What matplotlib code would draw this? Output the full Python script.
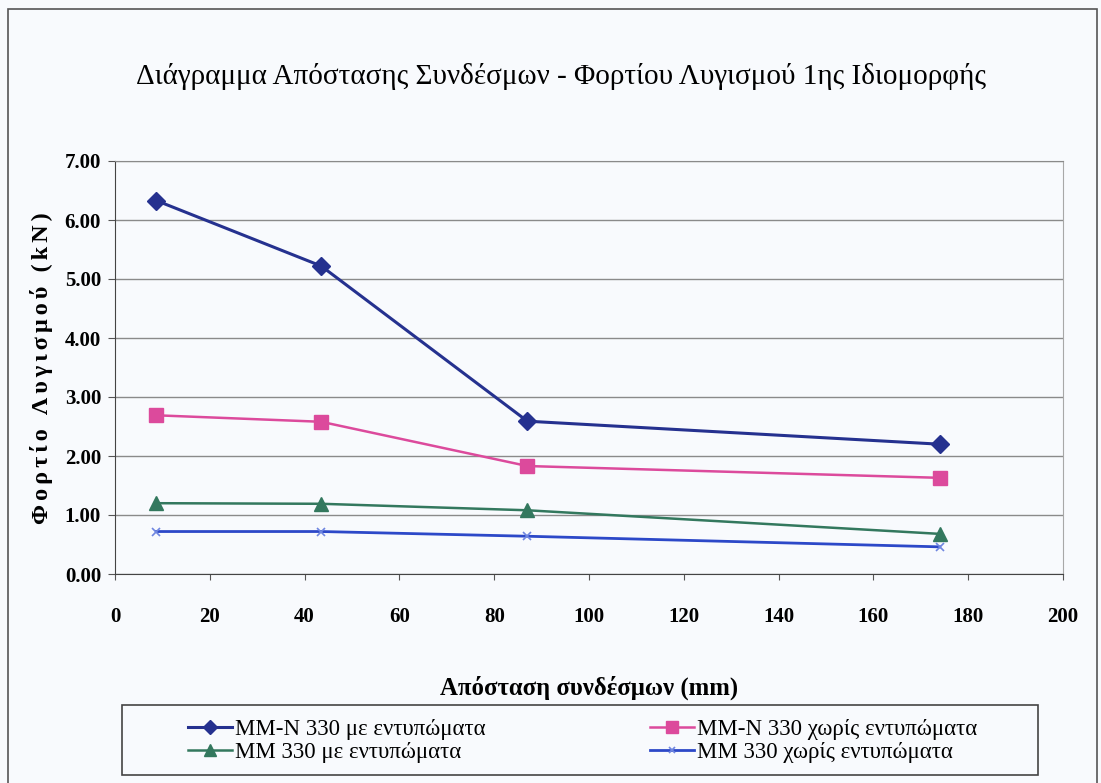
import matplotlib
matplotlib.use("Agg")
import matplotlib.pyplot as plt
from matplotlib.patches import Rectangle

# data
apostasi = [8.7, 43.5, 87, 174]
mmn_me = [6.33, 5.22, 2.59, 2.20]
mmn_xoris = [2.69, 2.58, 1.83, 1.63]
mm_me = [1.20, 1.19, 1.08, 0.68]
mm_xoris = [0.72, 0.72, 0.64, 0.46]

onomata = ["MM-N 330 με εντυπώματα", "MM-N 330 χωρίς εντυπώματα",
           "MM 330 με εντυπώματα", "MM 330 χωρίς εντυπώματα"]

titlos = "Διάγραμμα Απόστασης Συνδέσμων - Φορτίου Λυγισμού 1ης Ιδιομορφής"
xlabel = "Απόσταση συνδέσμων (mm)"
ylabel = "Φορτίο Λυγισμού (kN)"

serif = ["Liberation Serif", "DejaVu Serif"]
plt.rcParams['font.family'] = serif

W, H = 1101, 783
fondo = "#f8fafd"
fig = plt.figure(figsize=(W/100, H/100), dpi=100, facecolor=fondo)
ax = fig.add_axes([115/W, 1-574/H, (1063-115)/W, (574-161)/H])
ax.set_facecolor(fondo)

# marco exterior
fig.patches.append(Rectangle((8/W, -0.05), 1089/W, 1.05-9/H,
                             transform=fig.transFigure, fill=False,
                             edgecolor="#555555", lw=1.2))

l1, = ax.plot(apostasi, mmn_me, color="#25318f", lw=2.2, marker="D", ms=9,
              label=onomata[0])
l2, = ax.plot(apostasi, mmn_xoris, color="#dc4a9c", lw=1.8, marker="s", ms=10,
              label=onomata[1])
l3, = ax.plot(apostasi, mm_me, color="#33785e", lw=1.8, marker="^", ms=10,
              label=onomata[2])
l4, = ax.plot(apostasi, mm_xoris, color="#2c48c8", lw=2.0, marker="x", ms=6,
              mew=1.2, markeredgecolor="#6f86e0", label=onomata[3])

ax.set_xlim(0, 200)
ax.set_ylim(0, 7)
ax.set_xticks(range(0, 201, 20))
ax.set_yticks(range(0, 8))
ax.set_yticklabels([f"{v:.2f}" for v in range(0, 8)])
ax.grid(axis="y", color="#8a8a8a", lw=1.0)
ax.set_axisbelow(True)

for lab in ax.get_xticklabels() + ax.get_yticklabels():
    lab.set_family(serif)
    lab.set_fontweight("bold")
    lab.set_fontsize(15)
ax.tick_params(axis="x", direction="out", length=4, pad=20, color="#555555")
ax.tick_params(axis="y", direction="out", length=5, pad=5, color="#555555")

ax.spines["left"].set_color("#444444")
ax.spines["bottom"].set_color("#444444")
ax.spines["top"].set_color("#8a8a8a")
ax.spines["right"].set_color("#a8a8a8")

fig.text(561/W, 1-76/H, titlos, ha="center", va="center", fontsize=21,
         family=serif)
fig.text(589/W, 1-688/H, xlabel, ha="center", va="center",
         fontsize=17.8, fontweight="bold", family=serif)
fig.text(42/W, 1-368/H, "\u2006".join(ylabel), rotation=90,
         ha="center", va="center", fontsize=17.5, fontweight="bold",
         family=serif)

# legend: frame + two columns placed where the reference has them
fig.patches.append(Rectangle((122/W, 1-775/H), (1038-122)/W, 70/H,
                             transform=fig.transFigure, facecolor=fondo,
                             edgecolor="#444444", lw=1.2))
opts = dict(loc="center left", frameon=False, borderpad=0, borderaxespad=0,
            prop={"family": serif, "size": 16.5}, handlelength=1.9,
            handletextpad=0.15, labelspacing=0.08, markerscale=0.8)
leg1 = fig.legend(handles=[l1, l3], bbox_to_anchor=(188/W, 1-741/H), **opts)
leg2 = fig.legend(handles=[l2, l4], bbox_to_anchor=(650/W, 1-741/H), **opts)

fig.savefig("out.png", dpi=100, facecolor=fondo)
